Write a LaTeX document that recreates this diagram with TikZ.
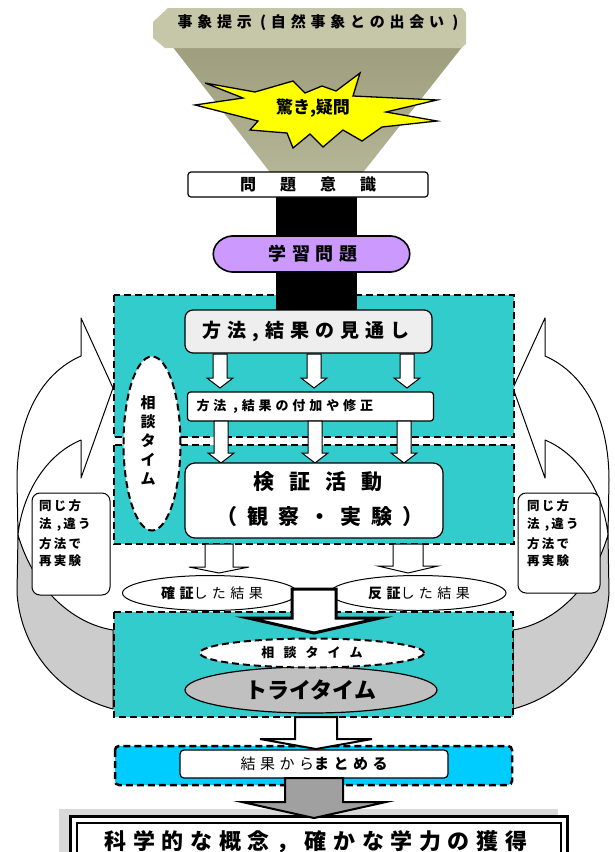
\documentclass[tikz,border=0pt]{standalone}
\usepackage{fontspec}
\setmainfont{Noto Sans CJK JP}
\usetikzlibrary{shapes.geometric}
\newcommand\lsp[2]{{\addfontfeature{LetterSpace=#1}#2}}
\newcommand\fsz[1]{\fontsize{#1}{#1}\selectfont}
\newcommand\barrow[7]{\draw[#7] (#1-#3,#2) -- (#1-#3,#5) -- (#1-#4,#5) -- (#1,#6) -- (#1+#4,#5) -- (#1+#3,#5) -- (#1+#3,#2) -- cycle;}
\definecolor{tealbg}{HTML}{33CCCC}
\definecolor{bluebg}{HTML}{00CCFF}
\definecolor{purp}{HTML}{CC99FF}
\definecolor{khakiA}{HTML}{C6C6A8}
\definecolor{khakiB}{HTML}{9E9E7E}
\definecolor{khakiC}{HTML}{B6B698}
\definecolor{ltgray}{HTML}{EEEEEE}
\definecolor{midgray}{HTML}{C0C0C0}
\definecolor{ribgray}{HTML}{CCCCCC}
\definecolor{arrgray}{HTML}{A0A0A0}
\definecolor{starY}{HTML}{FFFF00}
\begin{document}
\begin{tikzpicture}[x=1pt,y=-1pt,
  region/.style={fill=tealbg, draw=black, line width=2.5pt, dash pattern=on 7pt off 4pt},
  wbox/.style={draw=black, fill=white, line width=1.2pt},
  smallarrow/.style={draw=black, fill=white, line width=1pt},
  ribbon/.style={draw=black, line width=1pt, line join=round},
  callout/.style={draw=black, fill=white, line width=1pt, rounded corners=8pt},
  jp/.style={font=\bfseries}]
\useasboundingbox (0,0) rectangle (615,852);

% ---- funnel ----
\shade[top color=khakiB, bottom color=khakiC] (172,46) -- (463,46) -- (357,180) -- (276,180) -- cycle;
\fill[khakiA] (168,8) -- (462,8) -- (466,13) -- (466,44) -- (461,48) -- (165,48) -- (153,38) -- (153,22) -- cycle;
\node[jp, font=\fsz{15}\bfseries] (title) at (318,23) {\lsp{32}{事象提示 (自然事象との出会い )}};

% ---- star ----
\draw[fill=starY, line width=1.3pt, line join=miter] (195,105) -- (243,98) -- (205,83) -- (255,92) -- (293,81) -- (305,93) -- (322,86) -- (336,91) -- (360,73) -- (353,96) -- (437,100) -- (386,112) -- (437,121) -- (382,127) -- (362,141) -- (343,130) -- (323,147) -- (310,134) -- (293,148) -- (287,133) -- (250,130) -- (258,121) -- cycle;
\node[font=\fsz{17}\bfseries] (odoroki) at (313,108) {驚き,疑問};

% ---- left / right ribbons ----
\foreach \s/\sx in {0/1, 626/-1}{
\begin{scope}[shift={(\s,0)}, xscale=\sx]
 \draw[ribbon, fill=ribgray] (18,535) -- (17,593) .. controls (20,640) and (50,692) .. (113,709) -- (113,630) .. controls (75,624) and (35,592) .. (18,535) -- cycle;
 \draw[ribbon, fill=white] (113,388) -- (81,318) -- (81,356) .. controls (40,374) and (17,420) .. (17,480) -- (18,535) .. controls (22,495) and (45,455) .. (81,440) -- (81,478) -- cycle;
\end{scope}}
\node[callout, minimum width=78pt, minimum height=102pt] (callL) at (71,544) {};
\node[callout, minimum width=82pt, minimum height=100pt] (callR) at (559,543) {};
\node[font=\fsz{12.5}\bfseries, align=left, anchor=north west, inner sep=0pt] (txtL) at (39,500) {\lsp{18}{同じ方}\\[5pt]\lsp{18}{法 ,違う}\\[5pt]\lsp{18}{方法で}\\[5pt]\lsp{18}{再実験}};
\node[font=\fsz{12.5}\bfseries, align=left, anchor=north west, inner sep=0pt] (txtR) at (527,500) {\lsp{18}{同じ方}\\[5pt]\lsp{18}{法 ,違う}\\[5pt]\lsp{18}{方法で}\\[5pt]\lsp{18}{再実験}};

% ---- teal regions ----
\draw[region] (114,295) rectangle (514,437);
\draw[region] (114,445) rectangle (514,544);
\draw[region] (114,612) rectangle (513,717);
\draw[region, fill=bluebg, rounded corners=4pt] (115,746) rectangle (512,785);

% ---- black bar ----
\fill[black] (276,190) rectangle (357,311);

% ---- top boxes ----
\node[wbox, rounded corners=3pt, minimum width=240pt, minimum height=25pt, inner sep=0pt] (mondai) at (308,184.5) {};
\node[font=\fsz{16}\bfseries] at (mondai.center) {\lsp{150}{問題意識}};
\draw[fill=purp, line width=1.6pt, rounded corners=10pt] (222,236) -- (401,236) -- (413,254) -- (401,272) -- (222,272) -- (210,254) -- cycle;
\node[font=\fsz{18}\bfseries] (gakushu) at (313,254) {\lsp{30}{学習問題}};

% ---- mitoshi box ----
\node[draw=black, fill=ltgray, line width=1.2pt, rounded corners=8pt, minimum width=247pt, minimum height=43pt, inner sep=0pt] (mitoshi) at (308.5,331.5) {};
\node[font=\fsz{19}\bfseries] at (306,331.5) {\lsp{32}{方法,結果の見通し}};

\foreach \cx in {220,314,407}{\barrow{\cx}{354}{7}{13}{378}{388}{smallarrow}}

\node[wbox, rounded corners=3pt, minimum width=246pt, minimum height=29pt, inner sep=0pt] (fuka) at (310.5,406.5) {};
\node[font=\fsz{13}\bfseries, anchor=west] at (193,406.5) {\lsp{30}{方法 ,結果の付加や修正}};

\foreach \cx in {221,315,404}{\barrow{\cx}{421}{7}{13}{453}{463}{smallarrow}}

% ---- vertical soudan ellipse ----
\node[ellipse, draw=black, fill=white, line width=2pt, dash pattern=on 7pt off 4pt, minimum width=57pt, minimum height=174pt, inner sep=0pt] (soudanV) at (152,443.5) {};
\node[font=\fsz{15}\bfseries, align=center, inner sep=0pt] at (148,440) {相\\[4pt]談\\[4pt]タ\\[4pt]イ\\[4pt]ム};

% ---- kensho box ----
\node[wbox, rounded corners=10pt, minimum width=258pt, minimum height=75pt, inner sep=0pt] (kensho) at (314,500.5) {};
\node[font=\fsz{21}\bfseries] at (318,482) {\lsp{70}{検証活動}};
\node[font=\fsz{21}\bfseries] at (320,517) {\lsp{48}{（観察・実験）}};

% arrows to ellipses
\barrow{219}{544}{14}{30}{567}{573}{smallarrow}
\barrow{408}{544}{15}{30}{566}{573}{smallarrow}

% ---- result ellipses ----
\node[ellipse, draw=black, fill=white, line width=1pt, minimum width=175pt, minimum height=35pt, inner sep=0pt] (kakusho) at (210,593) {};
\node[font=\fsz{14}] at (212,593) {\lsp{32}{\bfseries 確証}\lsp{32}{した結果}};
\node[ellipse, draw=black, fill=white, line width=1pt, minimum width=176pt, minimum height=35pt, inner sep=0pt] (hansho) at (418,593) {};
\node[font=\fsz{14}] at (419,593) {\lsp{32}{\bfseries 反証}\lsp{32}{した結果}};

\barrow{314}{589}{22}{66}{618}{633}{draw=black, fill=white, line width=3pt}

% ---- try time ----
\node[ellipse, draw=black, fill=midgray, line width=1.2pt, minimum width=252pt, minimum height=46pt, inner sep=0pt] (try) at (311,690) {};
\node[font=\fsz{22}\bfseries] at (try.center) {トライタイム};
\node[ellipse, draw=black, fill=white, line width=2pt, dash pattern=on 7pt off 4pt, minimum width=224pt, minimum height=29pt, inner sep=0pt] (soudanH) at (312,653) {};
\node[font=\fsz{13}\bfseries] at (soudanH.center) {\lsp{70}{相談タイム}};

\barrow{316}{717}{21}{56}{739}{749}{draw=black, fill=white, line width=2pt}

% ---- matome ----
\node[wbox, rounded corners=4pt, minimum width=268pt, minimum height=28pt, inner sep=0pt] (matome) at (314,764) {};
\node[font=\fsz{15}] at (matome.center) {\lsp{30}{結果から}\lsp{30}{\bfseries まとめる}};

% ---- bottom ----
\fill[gray!30] (59,809) rectangle (558,860);
\draw[fill=white, line width=3pt] (70,816) rectangle (567,880);
\draw[line width=1.5pt] (77,823) rectangle (561,880);
\node[font=\fsz{22}\bfseries] (kagaku) at (316,842) {\lsp{30}{科学的な概念，確かな学力の獲得}};

\barrow{314}{778}{29}{72}{802}{818}{draw=black, fill=arrgray, line width=2pt}
\end{tikzpicture}
\end{document}
